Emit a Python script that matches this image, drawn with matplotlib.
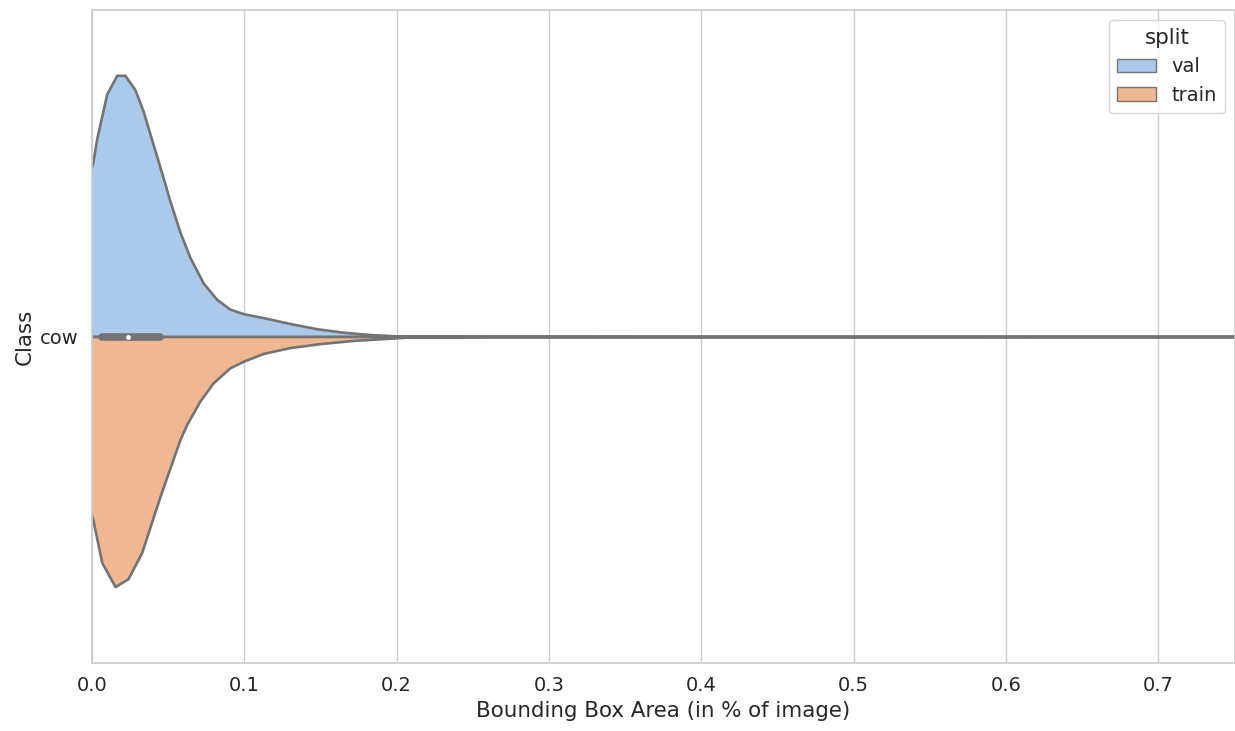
from matplotlib import pyplot as plt
import seaborn as sns

# density half-widths (x = bbox area, w = half width)
val_x = [-0.01, 0.0005, 0.003, 0.0096, 0.0162, 0.0216, 0.0282, 0.0336, 0.0391, 0.0457, 0.0511,
         0.0577, 0.0643, 0.073, 0.0818, 0.0905, 0.0992, 0.1123, 0.1298, 0.1473, 0.1648,
         0.1823, 0.1998, 0.25, 0.4, 0.8]
val_w = [0.19, 0.266, 0.302, 0.371, 0.400, 0.400, 0.378, 0.345, 0.302, 0.251, 0.208,
         0.160, 0.121, 0.082, 0.057, 0.042, 0.035, 0.029, 0.020, 0.012, 0.0066,
         0.003, 0.001, 0.0004, 0.0002, 0.0]

train_x = [-0.01, 0.0005, 0.0064, 0.0151, 0.0236, 0.0326, 0.0446, 0.0577, 0.0621, 0.0708,
           0.0795, 0.0905, 0.0992, 0.1123, 0.1298, 0.1495, 0.1714, 0.1932, 0.2064, 0.26, 0.8]
train_w = [0.2, 0.280, 0.346, 0.383, 0.371, 0.331, 0.245, 0.158, 0.135, 0.099,
           0.071, 0.048, 0.038, 0.026, 0.017, 0.011, 0.006, 0.003, 0.001, 0.0003, 0.0]

# inner box (quartiles and median)
box_q1, box_med, box_q3 = 0.0064, 0.0234, 0.0446

splits = ['val', 'train']
category = 'cow'

sns.set_theme(style='whitegrid', font_scale=1.28)
pal = [sns.desaturate(c, 0.75) for c in sns.color_palette('pastel')[:2]]
edge = '#737373'

fig = plt.figure(figsize=(12.35, 7.31), dpi=100)
ax = fig.add_axes([92 / 1235, 68 / 731, 1142.5 / 1235, 653 / 731])

ax.fill_between(val_x, 0, val_w, facecolor=pal[0], edgecolor=edge, linewidth=1.9, label=splits[0], zorder=2)
ax.fill_between(train_x, 0, [-w for w in train_w], facecolor=pal[1], edgecolor=edge, linewidth=1.9,
                label=splits[1], zorder=2)

ax.plot([box_q1, box_q3], [0, 0], color=edge, linewidth=5.5, solid_capstyle='round', zorder=3)
ax.scatter([box_med], [0], s=12, color='white', zorder=4, linewidths=0)

ax.set_xlim(0, 0.75)
ax.set_ylim(-0.5, 0.5)
ax.set_yticks([0])
ax.set_yticklabels([category])
ax.yaxis.grid(False)
ax.set_xlabel('Bounding Box Area (in % of image)')
ax.set_ylabel('Class')

leg = ax.legend(title='split', loc='upper right')
for h in leg.legend_handles:
    h.set_linewidth(1.0)

plt.savefig('out.png', dpi=100)
